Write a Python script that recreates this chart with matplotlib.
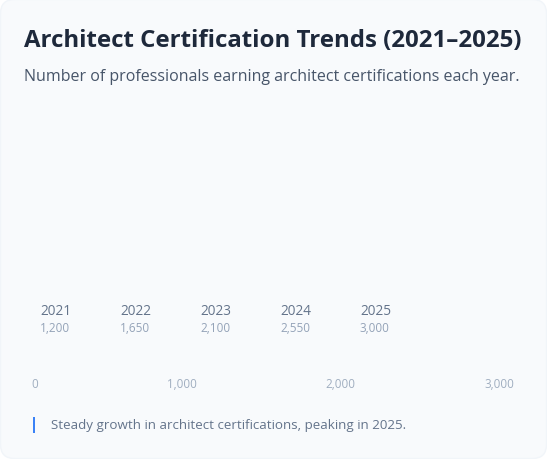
import matplotlib.pyplot as plt
import matplotlib.transforms as mtransforms
from matplotlib.patches import FancyBboxPatch, Rectangle
from matplotlib.ticker import FuncFormatter

years = ["2021", "2022", "2023", "2024", "2025"]
certifications = [1200, 1650, 2100, 2550, 3000]
x_ticks = [0, 1000, 2000, 3000]

W, H = 547, 460
plt.rcParams['font.family'] = ['Open Sans', 'DejaVu Sans']

fig = plt.figure(figsize=(W / 100, H / 100), dpi=100)
fig.patch.set_facecolor('white')

# card background
card = FancyBboxPatch((0.5, 0.5), W - 1, H - 1, boxstyle="round,pad=0,rounding_size=14",
                      transform=None, facecolor='#f8fafc', edgecolor='#f1f5f9',
                      linewidth=1, zorder=-10)
fig.patches.append(card)

def px(x, y):
    return x / W, 1 - y / H

fig.text(*px(24, 41), "Architect Certification Trends (2021–2025)", fontsize=17.3,
         fontweight='bold', color='#1e293b', va='center', ha='left')
fig.text(*px(24, 77), "Number of professionals earning architect certifications each year.",
         fontsize=11.5, color='#475569', va='center', ha='left')

# category labels (no bars drawn in the source)
cat_ax = fig.add_axes([40 / W, 1 - 340 / H, 400 / W, 40 / H])
cat_ax.set_xlim(0, 5)
cat_ax.set_ylim(0, 40)
cat_ax.axis('off')
for i, (yr, v) in enumerate(zip(years, certifications)):
    cat_ax.text(i, 28, yr, fontsize=9.8, color='#64748b', ha='left', va='center')
    cat_ax.text(i, 11, f"{v:,}", fontsize=8.5, color='#94a3b8', ha='left', va='center')

# value axis
ax = fig.add_axes([24 / W, 1 - 378 / H, 475 / W, 20 / H])
ax.set_facecolor('none')
ax.set_xlim(0, 3000)
ax.set_ylim(0, 1)
ax.set_yticks([])
ax.set_xticks(x_ticks)
ax.xaxis.set_major_formatter(FuncFormatter(lambda v, p: f"{int(v):,}"))
ax.tick_params(axis='x', length=0, labelsize=8.4, labelcolor='#a0aec0', pad=0)
for s in ax.spines.values():
    s.set_visible(False)
first = ax.xaxis.get_major_ticks()[0].label1
first.set_transform(first.get_transform() +
                    mtransforms.ScaledTranslation(11 / 100, 0, fig.dpi_scale_trans))

# footer note
fig.patches.append(Rectangle((33, H - 434), 2, 16, transform=None,
                             facecolor='#3b82f6', edgecolor='none'))
fig.text(*px(51, 426), "Steady growth in architect certifications, peaking in 2025.",
         fontsize=9.6, color='#64748b', va='center', ha='left')

fig.savefig('out.png', dpi=100, facecolor='white')
